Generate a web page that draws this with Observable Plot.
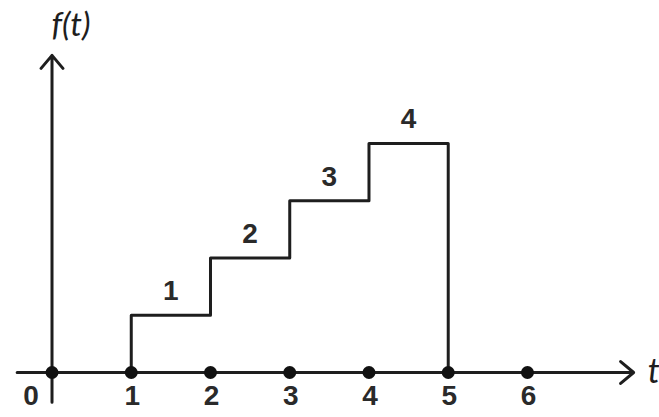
<!DOCTYPE html>
<html><head><meta charset="utf-8">
<script src="https://cdn.jsdelivr.net/npm/d3@7"></script>
<script src="https://cdn.jsdelivr.net/npm/@observablehq/plot@0.6"></script>
<style>body{margin:0;background:#fff}</style>
</head><body><div id="chart"></div>
<script>
// data
const tTicks = [0, 1, 2, 3, 4, 5, 6];
const tickLabels = ["0", "1", "2", "3", "4", "5", "6"];
const stepStarts = [1, 2, 3, 4];
const stepLevels = [1, 2, 3, 4];
const stepEnd = 5;
const levelLabels = ["1", "2", "3", "4"];
const xAxisExtent = [-0.44, 7.34];
const yAxisExtent = [-0.52, 5.54];

// derived tables
const stair = [{t: stepStarts[0], v: 0}]
  .concat(stepStarts.map((t, i) => ({t, v: stepLevels[i]})))
  .concat([{t: stepEnd, v: stepLevels[stepLevels.length - 1]}, {t: stepEnd, v: 0}]);
const ticks = tTicks.map((t, i) => ({t, label: tickLabels[i]}));
const levels = stepStarts.map((t, i) => ({t: t + 0.5, v: stepLevels[i], label: levelLabels[i]}));
const font = "Liberation Sans, Arial, sans-serif";
const ink = "#1e1e1e";

const chart = Plot.plot({
  width: 659,
  height: 417,
  marginLeft: 0, marginRight: 0, marginTop: 0, marginBottom: 0,
  x: {domain: [-0.65, 7.666], axis: null},
  y: {domain: [-0.786, 6.498], axis: null},
  style: {background: "#fff"},
  marks: [
    Plot.arrow([{x1: xAxisExtent[0], y1: 0, x2: xAxisExtent[1], y2: 0}],
      {x1: "x1", y1: "y1", x2: "x2", y2: "y2", stroke: ink, strokeWidth: 3, headLength: 8.5, headAngle: 80}),
    Plot.arrow([{x1: 0, y1: yAxisExtent[0], x2: 0, y2: yAxisExtent[1]}],
      {x1: "x1", y1: "y1", x2: "x2", y2: "y2", stroke: ink, strokeWidth: 3, headLength: 8.5, headAngle: 80}),
    Plot.line(stair, {x: "t", y: "v", curve: "step-after", stroke: ink, strokeWidth: 3}),
    Plot.dot(ticks, {x: "t", y: () => 0, r: 6.5, fill: "#111"}),
    Plot.text(ticks.filter(d => d.t !== 0), {x: "t", y: () => 0, text: "label", dy: 24, dx: 1,
      fontSize: 28, fontWeight: "bold", fontFamily: font, fill: "#2a2a2a"}),
    Plot.text(ticks.filter(d => d.t === 0), {x: "t", y: () => 0, text: "label", dy: 24, dx: -21,
      fontSize: 28, fontWeight: "bold", fontFamily: font, fill: "#2a2a2a"}),
    Plot.text(levels, {x: "t", y: "v", text: "label", dy: -24,
      fontSize: 28, fontWeight: "bold", fontFamily: font, fill: "#2a2a2a"}),
    Plot.text(["f(t)"], {x: 0, y: yAxisExtent[1], text: d => d, dx: 19, dy: -30,
      fontSize: 33, fontStyle: "italic", fontFamily: "Lato, sans-serif", fill: ink}),
    Plot.text(["t"], {x: xAxisExtent[1], y: 0, text: d => d, dx: 14, textAnchor: "start",
      fontSize: 34, fontStyle: "italic", fontFamily: "Lato, sans-serif", fill: ink})
  ]
});
document.getElementById("chart").append(chart);
</script>
</body></html>
